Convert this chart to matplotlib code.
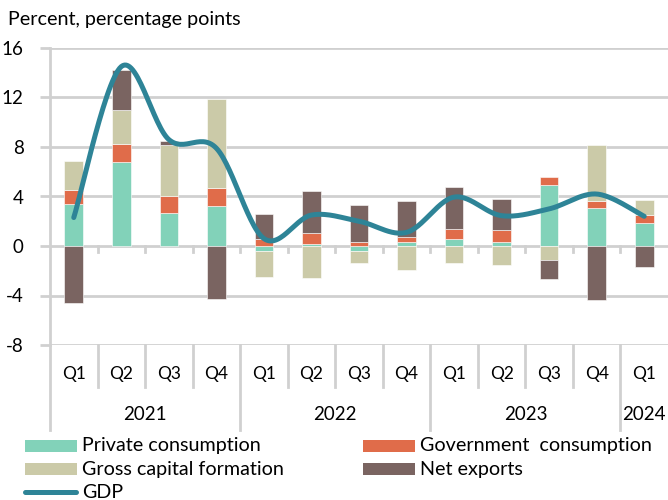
import numpy as np
import matplotlib
matplotlib.use("Agg")
import matplotlib.pyplot as plt
from matplotlib.patches import Rectangle
from matplotlib.lines import Line2D
import matplotlib.transforms as mtrans

plt.rcParams['font.family'] = ['Lato', 'DejaVu Sans']

quarters = ["Q1", "Q2", "Q3", "Q4", "Q1", "Q2", "Q3", "Q4", "Q1", "Q2", "Q3", "Q4", "Q1"]
years = ["2021", "2022", "2023", "2024"]
year_spans = [(0, 3), (4, 7), (8, 11), (12, 12)]

private_cons = [3.4, 6.8, 2.65, 3.25, -0.4, 0.15, -0.4, 0.3, 0.6, 0.35, 4.9, 3.1, 1.85]
gov_cons     = [1.1, 1.45, 1.4, 1.4, 0.55, 0.9, 0.35, 0.45, 0.8, 0.95, 0.7, 0.55, 0.65]
gross_cap    = [2.4, 2.7, 4.1, 7.2, -2.1, -2.55, -0.95, -1.9, -1.4, -1.5, -1.1, 4.5, 1.2]
net_exports  = [-4.6, 3.3, 0.35, -4.3, 2.0, 3.4, 2.95, 2.9, 3.4, 2.5, -1.6, -4.4, -1.7]
gdp          = [2.3, 14.5, 8.6, 7.9, 0.6, 2.5, 2.0, 1.1, 3.95, 2.45, 3.0, 4.2, 2.4]

series = [
    ("Private consumption", private_cons, "#82D2B9"),
    ("Government  consumption", gov_cons, "#E06C4A"),
    ("Gross capital formation", gross_cap, "#CBCAA8"),
    ("Net exports", net_exports, "#7A6461"),
]
gdp_color = "#2E8497"
grid_color = "#D0D0D0"

TEXT_FS = 14.2
NUM_FS = 13.5
Q_FS = 12.5

W, H = 668, 500
fig = plt.figure(figsize=(W / 100, H / 100), dpi=100)
ax_left, ax_right, ax_top, ax_bot = 50, 668, 48, 345
ax = fig.add_axes([ax_left / W, 1 - ax_bot / H, (ax_right - ax_left) / W, (ax_bot - ax_top) / H])

n = len(quarters)
x = np.arange(n)
pos_bottom = np.zeros(n)
neg_bottom = np.zeros(n)
for name, vals, col in series:
    v = np.array(vals, dtype=float)
    bottoms = np.where(v >= 0, pos_bottom, neg_bottom)
    ax.bar(x, v, width=0.39, bottom=bottoms, color=col, edgecolor="white",
           linewidth=0.4, zorder=3)
    pos_bottom = pos_bottom + np.where(v >= 0, v, 0)
    neg_bottom = neg_bottom + np.where(v < 0, v, 0)

# Smoothed GDP line (Excel-like Bezier smoothing)
def smooth(xs, ys, steps=30):
    xs = np.asarray(xs, float)
    ys = np.asarray(ys, float)
    px = np.concatenate([[xs[0]], xs, [xs[-1]]])
    py = np.concatenate([[ys[0]], ys, [ys[-1]]])
    outx, outy = [], []
    for i in range(1, len(px) - 2):
        p0 = np.array([px[i - 1], py[i - 1]])
        p1 = np.array([px[i], py[i]])
        p2 = np.array([px[i + 1], py[i + 1]])
        p3 = np.array([px[i + 2], py[i + 2]])
        c1 = p1 + (p2 - p0) / 6
        c2 = p2 - (p3 - p1) / 6
        t = np.linspace(0, 1, steps)[:, None]
        b = ((1 - t) ** 3) * p1 + 3 * ((1 - t) ** 2) * t * c1 + 3 * (1 - t) * t ** 2 * c2 + t ** 3 * p2
        outx.extend(b[:, 0])
        outy.extend(b[:, 1])
    return np.array(outx), np.array(outy)

sx, sy = smooth(x, gdp)
ax.plot(sx, sy, color=gdp_color, lw=3.6, solid_capstyle="round", zorder=5)

ax.set_xlim(-0.5, n - 0.5)
ax.set_ylim(-8, 16)
ax.set_yticks(np.arange(-8, 17, 4))
ax.set_yticklabels([str(v) for v in range(-8, 17, 4)], fontsize=NUM_FS)
ax.yaxis.grid(True, color=grid_color, lw=2, zorder=0)
ax.set_axisbelow(True)
ax.tick_params(axis="y", length=7, width=2, color=grid_color, pad=12, labelcolor="black")
ax.set_xticks([])
for s in ["top", "right", "bottom"]:
    ax.spines[s].set_visible(False)
ax.spines["left"].set_color(grid_color)
ax.spines["left"].set_linewidth(2)

# zero line ticks between categories
tr = mtrans.blended_transform_factory(ax.transData, ax.transAxes)
zero_ax = 8 / 24
tick_len = 6 / (ax_bot - ax_top)
for i in range(n - 1):
    ax.add_line(Line2D([i + 0.5, i + 0.5], [zero_ax, zero_ax - tick_len], transform=tr,
                       color=grid_color, lw=2, zorder=1, clip_on=False))

# category table below
ph = ax_bot - ax_top
def ay(py):
    return (ax_bot - py) / ph

for i in range(n - 1):
    yb = ay(430) if (i + 1) in (4, 8, 12) else ay(387)
    ax.add_line(Line2D([i + 0.5, i + 0.5], [0, yb], transform=tr, color=grid_color,
                       lw=2, clip_on=False))
ax.add_line(Line2D([-0.5, -0.5], [0, ay(430)], transform=tr, color=grid_color, lw=2, clip_on=False))

for i, q in enumerate(quarters):
    ax.text(i, ay(374), q, transform=tr, ha="center", va="center", fontsize=Q_FS, clip_on=False)
for yl, (a, b) in zip(years, year_spans):
    ax.text((a + b) / 2, ay(415), yl, transform=tr, ha="center", va="center", fontsize=NUM_FS, clip_on=False)

# title
fig.text(8 / W, 1 - 19 / H, "Percent, percentage points", ha="left", va="center", fontsize=TEXT_FS)

# legend (manual)
def fx(px):
    return px / W
def fy(py):
    return 1 - py / H

legend_items = [
    (25, 446, series[0][0], series[0][2]),
    (363, 446, series[1][0], series[1][2]),
    (25, 469, series[2][0], series[2][2]),
    (363, 469, series[3][0], series[3][2]),
]
for lx, ly, lab, col in legend_items:
    fig.patches.append(Rectangle((fx(lx), fy(ly + 6)), 52 / W, 12 / H, transform=fig.transFigure,
                                 facecolor=col, edgecolor="none"))
    fig.text(fx(lx + 57), fy(ly), lab, ha="left", va="center", fontsize=TEXT_FS)
fig.lines.append(Line2D([fx(25), fx(76)], [fy(492), fy(492)], transform=fig.transFigure,
                        color=gdp_color, lw=3.6, solid_capstyle="round"))
fig.text(fx(82), fy(492), "GDP", ha="left", va="center", fontsize=TEXT_FS)

fig.savefig("out.png", dpi=100)
